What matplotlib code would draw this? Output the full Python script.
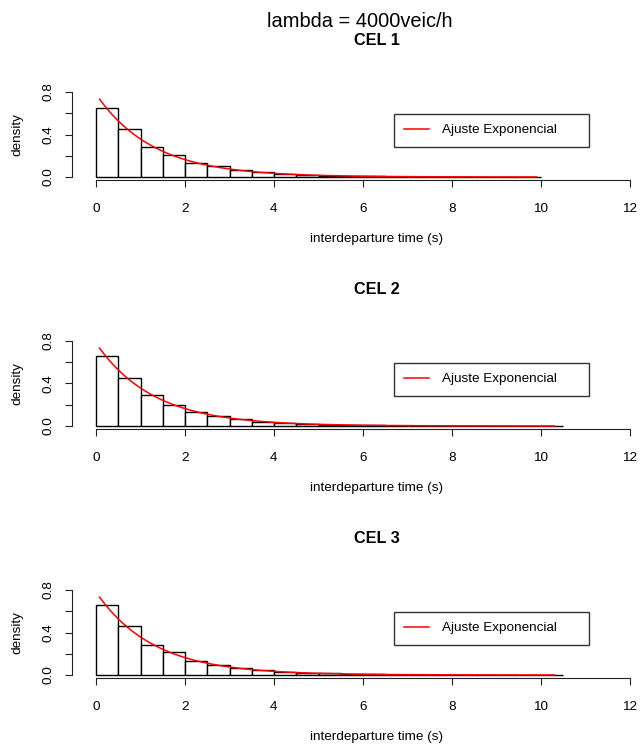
import numpy as np
import matplotlib
matplotlib.use("Agg")
import matplotlib.pyplot as plt

plt.rcParams["font.family"] = ["Liberation Sans", "DejaVu Sans"]

# histogram densities, 0.5 s bins starting at 0
bin_width = 0.5
cel1_density = [0.652, 0.455, 0.287, 0.208, 0.134, 0.105, 0.065, 0.043, 0.030, 0.019,
                0.012, 0.008, 0.005, 0.004, 0.003, 0.002, 0.001, 0.001, 0.001, 0.001]
cel2_density = [0.659, 0.455, 0.289, 0.201, 0.135, 0.094, 0.063, 0.041, 0.028, 0.022,
                0.013, 0.009, 0.006, 0.004, 0.003, 0.002, 0.002, 0.001, 0.001, 0.001, 0.001]
cel3_density = [0.656, 0.461, 0.285, 0.213, 0.132, 0.091, 0.069, 0.044, 0.028, 0.019,
                0.015, 0.009, 0.006, 0.004, 0.003, 0.002, 0.002, 0.001, 0.001, 0.001, 0.001]

panel_titles = ["CEL 1", "CEL 2", "CEL 3"]
densities = [cel1_density, cel2_density, cel3_density]

# fitted exponential rate (1/s) and observed min/max interdeparture time
fit_rate = [0.78, 0.78, 0.78]
fit_range = [(0.08, 9.9), (0.08, 10.3), (0.08, 10.3)]

W, H = 640, 746
fs = 9.7
fig = plt.figure(figsize=(W / 100, H / 100), dpi=100)
fig.text(360 / W, 1 - 27 / H, "lambda = 4000veic/h", ha="center", va="baseline",
         fontsize=14.4)

px_per_unit = 44.5
for i, (title, dens) in enumerate(zip(panel_titles, densities)):
    top_px = 88.6 + 249 * i
    bot_px = 180.4 + 249 * i
    ax = fig.add_axes([72 / W, 1 - bot_px / H, (W - 72) / W, (bot_px - top_px) / H])
    ax.set_xlim(-24 / px_per_unit, (W - 96) / px_per_unit)
    ax.set_ylim(-0.032, 0.832)

    left_edges = np.arange(len(dens)) * bin_width
    ax.bar(left_edges, dens, width=bin_width, align="edge", facecolor="white",
           edgecolor="black", linewidth=1.0)

    lo, hi = fit_range[i]
    t = np.linspace(lo, hi, 300)
    ax.plot(t, fit_rate[i] * np.exp(-fit_rate[i] * t), color="red", lw=1.1,
            label="Ajuste Exponencial")

    for s in ("top", "right"):
        ax.spines[s].set_visible(False)
    ax.spines["bottom"].set_bounds(0, 12)
    ax.spines["left"].set_bounds(0, 0.8)
    for s in ("bottom", "left"):
        ax.spines[s].set_linewidth(0.8)
        ax.spines[s].set_color("#222222")

    ax.set_xticks(np.arange(0, 13, 2))
    ax.set_yticks([0, 0.2, 0.4, 0.6, 0.8], ["0.0", "", "0.4", "", "0.8"])
    ax.tick_params(axis="both", direction="out", length=5, width=0.8,
                   color="#222222", labelsize=fs)
    ax.tick_params(axis="x", pad=11)
    ax.tick_params(axis="y", pad=7.5)
    plt.setp(ax.get_yticklabels(), rotation=90, va="center")

    ax.set_xlabel("interdeparture time (s)", fontsize=fs, va="center")
    ax.xaxis.set_label_coords(305 / 568, -(239.5 - 180.4) / 91.8)
    ax.set_ylabel("density", fontsize=fs, va="center")
    ax.yaxis.set_label_coords(-55 / 568, 0.5)

    ax.set_title(title, fontsize=11.7, fontweight="bold", x=305 / 568,
                 y=1 + (88.6 - 53.3) / 91.8, va="baseline")

    leg = ax.legend(loc="upper left", bbox_to_anchor=(0.567, 0.375, 0.343, 0.349),
                    mode="expand", borderaxespad=0, fancybox=False, frameon=True,
                    fontsize=fs, handlelength=1.85, handletextpad=0.95, borderpad=0.75)
    leg.get_frame().set_edgecolor("black")
    leg.get_frame().set_linewidth(1.0)

fig.savefig("out.png", dpi=100)
